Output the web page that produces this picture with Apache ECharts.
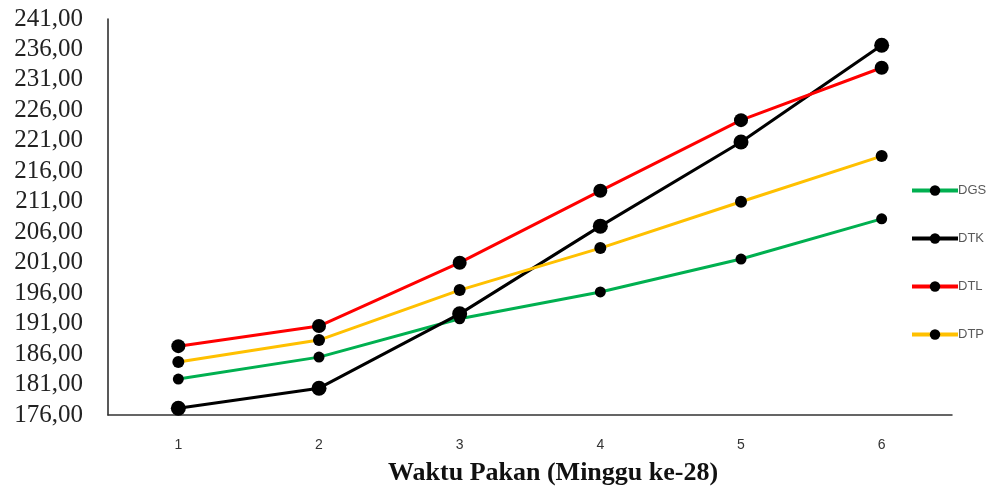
<!DOCTYPE html>
<html><head><meta charset="utf-8">
<script src="https://cdn.jsdelivr.net/npm/echarts@6/dist/echarts.min.js"></script>
<style>html,body{margin:0;padding:0;background:#fff}#c{width:993px;height:492px}</style>
</head><body><div id="c"></div>
<script>
const categories = ['1','2','3','4','5','6'];
const DGS = [181.9, 185.5, 191.8, 196.2, 201.6, 208.2];
const DTK = [177.1, 180.4, 192.6, 207.0, 220.8, 236.7];
const DTL = [187.3, 190.6, 201.0, 212.8, 224.4, 233.0];
const DTP = [184.7, 188.3, 196.5, 203.4, 211.0, 218.5];
const yMin = 176, yMax = 241, yStep = 5;
const xTitle = 'Waktu Pakan (Minggu ke-28)';

const chart = echarts.init(document.getElementById('c'));
function s(name, data, color, size){
  return {name, type:'line', data, symbol:'circle', symbolSize:size,
    lineStyle:{color, width:3}, itemStyle:{color:'#000', borderWidth:0},
    emphasis:{disabled:true}, z: 2};
}
chart.setOption({
  animation:false,
  grid:{left:108, right:41, top:19, bottom:77},
  xAxis:{type:'category', data:categories, boundaryGap:true,
    axisLine:{lineStyle:{color:'#333', width:1.5}}, axisTick:{show:false},
    axisLabel:{margin:23, color:'#333', fontSize:14, fontFamily:'Liberation Sans'}},
  yAxis:{type:'value', min:yMin, max:yMax, interval:yStep,
    axisLine:{show:true, lineStyle:{color:'#222', width:1.5}}, axisTick:{show:false},
    splitLine:{show:false},
    axisLabel:{margin:25, color:'#222', fontSize:25, fontFamily:'Liberation Serif',
      padding:[4,0,0,0],
      formatter:v=>v.toFixed(2).replace('.',',')}},
  legend:{orient:'vertical', left:905, top:179, itemWidth:46, itemHeight:13, itemGap:35,
    lineStyle:{width:4},
    textStyle:{color:'#595959', fontSize:13, fontFamily:'Liberation Sans', padding:[0,0,0,-5]},
    data:['DGS','DTK','DTL','DTP']},
  graphic:[{type:'text', left:388, top:460,
    style:{text:xTitle, font:'bold 26px "Liberation Serif"', fill:'#111'}}],
  series:[
    s('DGS', DGS, '#00b050', 11),
    s('DTK', DTK, '#000000', 15),
    s('DTL', DTL, '#ff0000', 14),
    s('DTP', DTP, '#ffc000', 12)
  ]
});
</script></body></html>
